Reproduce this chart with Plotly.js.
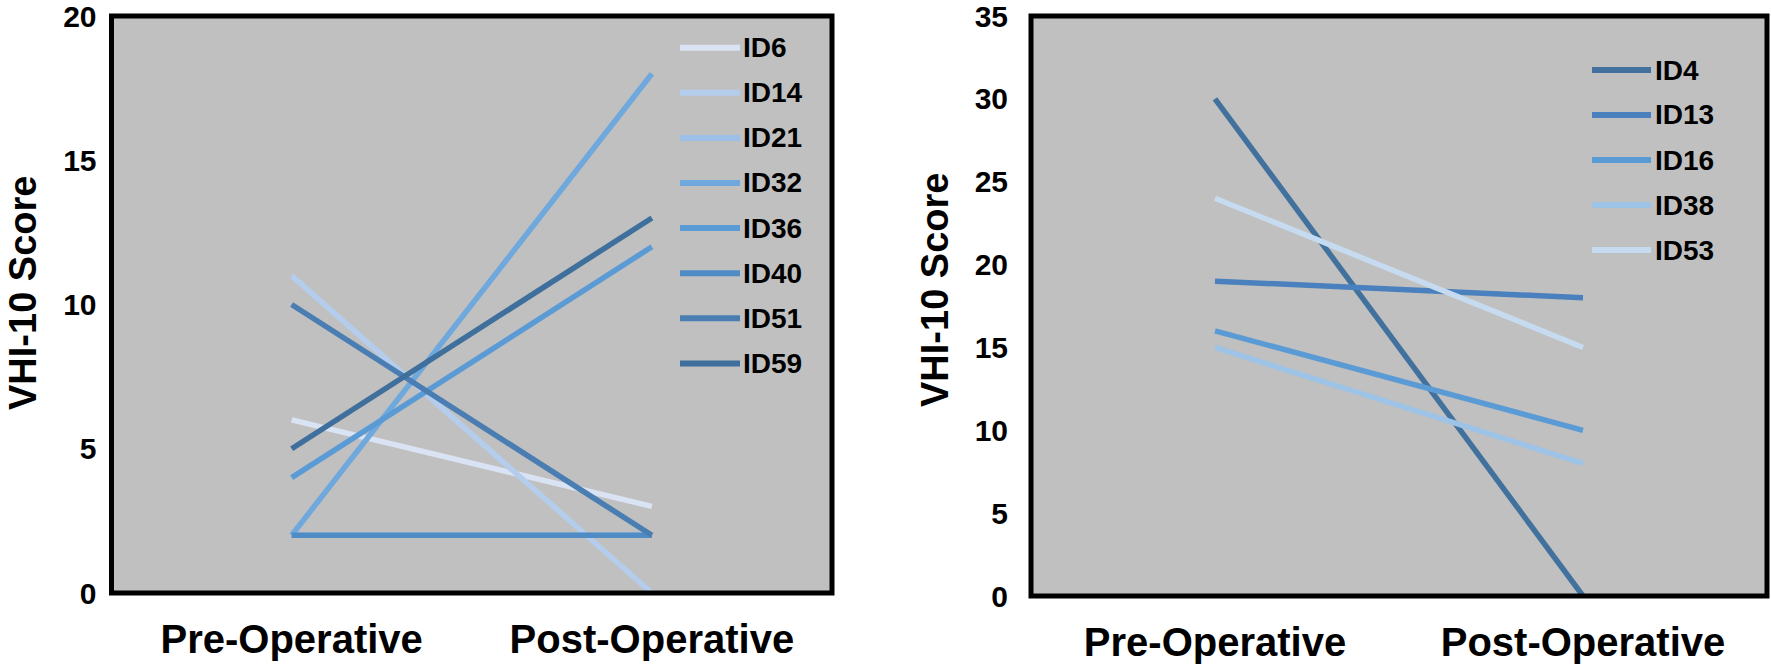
<!DOCTYPE html>
<html>
<head>
<meta charset="utf-8">
<script src="https://cdn.plot.ly/plotly-3.0.1.min.js"></script>
<style>
  html, body { margin: 0; padding: 0; background: #ffffff; }
  #chart { width: 1771px; height: 668px; }
</style>
</head>
<body>
<div id="chart"></div>
<script>
// ---- data ----
const categories = ['Pre-Operative', 'Post-Operative'];

const leftNames  = ['ID6', 'ID14', 'ID21', 'ID32', 'ID36', 'ID40', 'ID51', 'ID59'];
const leftPre    = [6, 11, 2, 2, 4, 2, 10, 5];
const leftPost   = [3, 0, 2, 18, 12, 2, 2, 13];
const leftColors = ['#dae3f3', '#b4cdec', '#9dc0e8', '#6fa8dc', '#5b9bd5', '#4f8bc5', '#4a7eb3', '#3f6f9c'];

const rightNames  = ['ID4', 'ID13', 'ID16', 'ID38', 'ID53'];
const rightPre    = [30, 19, 16, 15, 24];
const rightPost   = [0, 18, 10, 8, 15];
const rightColors = ['#41719c', '#4a80bd', '#5b9bd5', '#9dc3e6', '#c6dbef'];

const leftTicks  = [0, 5, 10, 15, 20];
const rightTicks = [0, 5, 10, 15, 20, 25, 30, 35];

// ---- layout helpers ----
const W = 1771, H = 668;
const FONT = 'Liberation Sans, Arial, sans-serif';
const px = v => v / W;
const py = v => 1 - v / H;

const traces = [];
leftNames.forEach((n, i) => {
  traces.push({
    type: 'scatter', mode: 'lines', name: n,
    x: categories, y: [leftPre[i], leftPost[i]],
    xaxis: 'x', yaxis: 'y',
    line: { color: leftColors[i], width: 5.5 },
    showlegend: false, hoverinfo: 'name+y'
  });
});
rightNames.forEach((n, i) => {
  traces.push({
    type: 'scatter', mode: 'lines', name: n,
    x: categories, y: [rightPre[i], rightPost[i]],
    xaxis: 'x2', yaxis: 'y2',
    line: { color: rightColors[i], width: 5.5 },
    showlegend: false, hoverinfo: 'name+y'
  });
});

const shapes = [];
const annotations = [];

// plot frames
[['x', 'y'], ['x2', 'y2']].forEach(([xa, ya]) => {
  shapes.push({
    type: 'rect', xref: xa + ' domain', yref: ya + ' domain',
    x0: 0, x1: 1, y0: 0, y1: 1,
    line: { color: '#000000', width: 5 }, layer: 'above'
  });
});

// custom legends
function addLegend(names, colors, lineX0, lineX1, textX, rowY0, rowStep) {
  names.forEach((n, i) => {
    const yy = py(rowY0 + rowStep * i);
    shapes.push({
      type: 'line', xref: 'paper', yref: 'paper',
      x0: px(lineX0), x1: px(lineX1), y0: yy, y1: yy,
      line: { color: colors[i], width: 6 }, layer: 'above'
    });
    annotations.push({
      xref: 'paper', yref: 'paper', x: px(textX), y: yy,
      xanchor: 'left', yanchor: 'middle', showarrow: false,
      text: n, font: { family: FONT, size: 28, weight: 'bold', color: '#000000' }
    });
  });
}
addLegend(leftNames, leftColors, 680, 740, 741, 47.7, 45.1);
addLegend(rightNames, rightColors, 1592, 1651, 1653, 70, 45);

// y-axis titles
const titleFont = { family: FONT, size: 38, weight: 'bold', color: '#000000' };
annotations.push({
  xref: 'paper', yref: 'paper', x: px(23), y: py(293),
  xanchor: 'center', yanchor: 'middle', showarrow: false, textangle: -90, borderpad: 0,
  text: 'VHI-10 Score', font: titleFont
});
annotations.push({
  xref: 'paper', yref: 'paper', x: px(935), y: py(290),
  xanchor: 'center', yanchor: 'middle', showarrow: false, textangle: -90, borderpad: 0,
  text: 'VHI-10 Score', font: titleFont
});

const xTickFont = { family: FONT, size: 40, weight: 'bold', color: '#000000' };
const yTickFont = { family: FONT, size: 30, weight: 'bold', color: '#000000' };

const layout = {
  width: W, height: H,
  margin: { l: 0, r: 0, t: 0, b: 0 },
  paper_bgcolor: '#ffffff',
  plot_bgcolor: '#c0c0c0',
  showlegend: false,
  xaxis: {
    domain: [px(111.5), px(832)], anchor: 'y',
    type: 'category', categoryarray: categories, range: [-0.5, 1.5],
    showgrid: false, zeroline: false, showline: false, ticks: '',
    tickfont: xTickFont, ticklabelstandoff: 19, fixedrange: true
  },
  yaxis: {
    domain: [py(593), py(16)], anchor: 'x',
    range: [0, 20], tickvals: leftTicks,
    showgrid: false, zeroline: false, showline: false, ticks: '',
    tickfont: yTickFont, ticklabelstandoff: 14, ticklabeloverflow: 'allow', fixedrange: true
  },
  xaxis2: {
    domain: [px(1031), px(1767)], anchor: 'y2',
    type: 'category', categoryarray: categories, range: [-0.5, 1.5],
    showgrid: false, zeroline: false, showline: false, ticks: '',
    tickfont: xTickFont, ticklabelstandoff: 19, fixedrange: true
  },
  yaxis2: {
    domain: [py(596), py(16)], anchor: 'x2',
    range: [0, 35], tickvals: rightTicks,
    showgrid: false, zeroline: false, showline: false, ticks: '',
    tickfont: yTickFont, ticklabelstandoff: 22, ticklabeloverflow: 'allow', fixedrange: true
  },
  shapes: shapes,
  annotations: annotations
};

Plotly.newPlot('chart', traces, layout, { displayModeBar: false, staticPlot: true });
</script>
</body>
</html>
